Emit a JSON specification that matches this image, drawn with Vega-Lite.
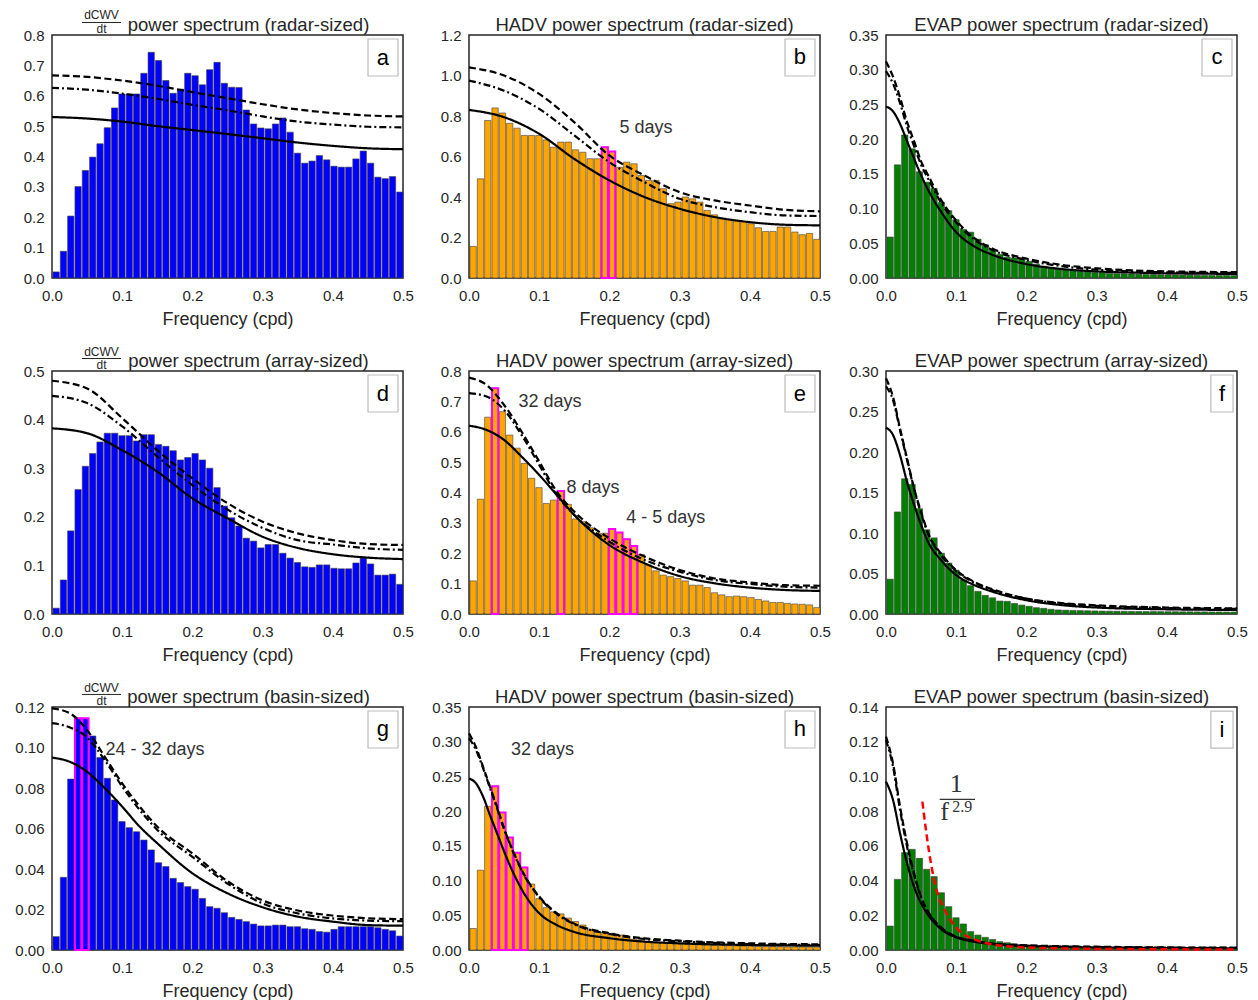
{
"$schema":"https://vega.github.io/schema/vega-lite/v6.json",
"background":"white",
"padding":{"left":14,"top":8,"right":5,"bottom":5},
"bounds":"flush",
"columns":3,
"spacing":{"row":93,"column":66},
"datasets":{
"bars":[
{"s":"a","f":0,"v":0.02},{"s":"a","f":0.01042,"v":0.088},{"s":"a","f":0.02083,"v":0.204},{"s":"a","f":0.03125,"v":0.301},{"s":"a","f":0.04167,"v":0.354},{"s":"a","f":0.05208,"v":0.398},{"s":"a","f":0.0625,"v":0.442},{"s":"a","f":0.07292,"v":0.495},{"s":"a","f":0.08333,"v":0.56},{"s":"a","f":0.09375,"v":0.606},{"s":"a","f":0.10417,"v":0.606},{"s":"a","f":0.11458,"v":0.606},{"s":"a","f":0.125,"v":0.674},{"s":"a","f":0.13542,"v":0.743},{"s":"a","f":0.14583,"v":0.716},{"s":"a","f":0.15625,"v":0.65},{"s":"a","f":0.16667,"v":0.608},{"s":"a","f":0.17708,"v":0.622},{"s":"a","f":0.1875,"v":0.674},{"s":"a","f":0.19792,"v":0.666},{"s":"a","f":0.20833,"v":0.636},{"s":"a","f":0.21875,"v":0.686},{"s":"a","f":0.22917,"v":0.71},{"s":"a","f":0.23958,"v":0.641},{"s":"a","f":0.25,"v":0.628},{"s":"a","f":0.26042,"v":0.627},{"s":"a","f":0.27083,"v":0.553},{"s":"a","f":0.28125,"v":0.507},{"s":"a","f":0.29167,"v":0.494},{"s":"a","f":0.30208,"v":0.491},{"s":"a","f":0.3125,"v":0.507},{"s":"a","f":0.32292,"v":0.527},{"s":"a","f":0.33333,"v":0.48},{"s":"a","f":0.34375,"v":0.411},{"s":"a","f":0.35417,"v":0.378},{"s":"a","f":0.36458,"v":0.385},{"s":"a","f":0.375,"v":0.403},{"s":"a","f":0.38542,"v":0.389},{"s":"a","f":0.39583,"v":0.368},{"s":"a","f":0.40625,"v":0.365},{"s":"a","f":0.41667,"v":0.365},{"s":"a","f":0.42708,"v":0.392},{"s":"a","f":0.4375,"v":0.418},{"s":"a","f":0.44792,"v":0.378},{"s":"a","f":0.45833,"v":0.332},{"s":"a","f":0.46875,"v":0.327},{"s":"a","f":0.47917,"v":0.334},{"s":"a","f":0.48958,"v":0.283},
{"s":"b","f":0,"v":0.156},{"s":"b","f":0.01042,"v":0.49},{"s":"b","f":0.02083,"v":0.778},{"s":"b","f":0.03125,"v":0.84},{"s":"b","f":0.04167,"v":0.815},{"s":"b","f":0.05208,"v":0.764},{"s":"b","f":0.0625,"v":0.74},{"s":"b","f":0.07292,"v":0.704},{"s":"b","f":0.08333,"v":0.704},{"s":"b","f":0.09375,"v":0.704},{"s":"b","f":0.10417,"v":0.682},{"s":"b","f":0.11458,"v":0.646},{"s":"b","f":0.125,"v":0.671},{"s":"b","f":0.13542,"v":0.671},{"s":"b","f":0.14583,"v":0.633},{"s":"b","f":0.15625,"v":0.621},{"s":"b","f":0.16667,"v":0.589},{"s":"b","f":0.17708,"v":0.589},{"s":"b","f":0.1875,"v":0.646,"hl":1},{"s":"b","f":0.19792,"v":0.625,"hl":1},{"s":"b","f":0.20833,"v":0.547},{"s":"b","f":0.21875,"v":0.572},{"s":"b","f":0.22917,"v":0.564},{"s":"b","f":0.23958,"v":0.506},{"s":"b","f":0.25,"v":0.482},{"s":"b","f":0.26042,"v":0.482},{"s":"b","f":0.27083,"v":0.441},{"s":"b","f":0.28125,"v":0.367},{"s":"b","f":0.29167,"v":0.375},{"s":"b","f":0.30208,"v":0.4},{"s":"b","f":0.3125,"v":0.391},{"s":"b","f":0.32292,"v":0.375},{"s":"b","f":0.33333,"v":0.334},{"s":"b","f":0.34375,"v":0.312},{"s":"b","f":0.35417,"v":0.293},{"s":"b","f":0.36458,"v":0.289},{"s":"b","f":0.375,"v":0.283},{"s":"b","f":0.38542,"v":0.279},{"s":"b","f":0.39583,"v":0.268},{"s":"b","f":0.40625,"v":0.248},{"s":"b","f":0.41667,"v":0.23},{"s":"b","f":0.42708,"v":0.23},{"s":"b","f":0.4375,"v":0.252},{"s":"b","f":0.44792,"v":0.252},{"s":"b","f":0.45833,"v":0.227},{"s":"b","f":0.46875,"v":0.214},{"s":"b","f":0.47917,"v":0.22},{"s":"b","f":0.48958,"v":0.191},
{"s":"c","f":0,"v":0.059},{"s":"c","f":0.01042,"v":0.163},{"s":"c","f":0.02083,"v":0.206},{"s":"c","f":0.03125,"v":0.186},{"s":"c","f":0.04167,"v":0.153},{"s":"c","f":0.05208,"v":0.138},{"s":"c","f":0.0625,"v":0.129},{"s":"c","f":0.07292,"v":0.109},{"s":"c","f":0.08333,"v":0.097},{"s":"c","f":0.09375,"v":0.084},{"s":"c","f":0.10417,"v":0.07},{"s":"c","f":0.11458,"v":0.066},{"s":"c","f":0.125,"v":0.056},{"s":"c","f":0.13542,"v":0.048},{"s":"c","f":0.14583,"v":0.04},{"s":"c","f":0.15625,"v":0.034},{"s":"c","f":0.16667,"v":0.03},{"s":"c","f":0.17708,"v":0.029},{"s":"c","f":0.1875,"v":0.028},{"s":"c","f":0.19792,"v":0.024},{"s":"c","f":0.20833,"v":0.02},{"s":"c","f":0.21875,"v":0.017},{"s":"c","f":0.22917,"v":0.015},{"s":"c","f":0.23958,"v":0.013},{"s":"c","f":0.25,"v":0.0115},{"s":"c","f":0.26042,"v":0.0105},{"s":"c","f":0.27083,"v":0.0096},{"s":"c","f":0.28125,"v":0.0086},{"s":"c","f":0.29167,"v":0.008},{"s":"c","f":0.30208,"v":0.0077},{"s":"c","f":0.3125,"v":0.0067},{"s":"c","f":0.32292,"v":0.0062},{"s":"c","f":0.33333,"v":0.006},{"s":"c","f":0.34375,"v":0.0058},{"s":"c","f":0.35417,"v":0.0055},{"s":"c","f":0.36458,"v":0.0052},{"s":"c","f":0.375,"v":0.005},{"s":"c","f":0.38542,"v":0.0048},{"s":"c","f":0.39583,"v":0.0046},{"s":"c","f":0.40625,"v":0.0045},{"s":"c","f":0.41667,"v":0.0043},{"s":"c","f":0.42708,"v":0.0042},{"s":"c","f":0.4375,"v":0.004},{"s":"c","f":0.44792,"v":0.0039},{"s":"c","f":0.45833,"v":0.0038},{"s":"c","f":0.46875,"v":0.0037},{"s":"c","f":0.47917,"v":0.0036},{"s":"c","f":0.48958,"v":0.0035},
{"s":"d","f":0,"v":0.012},{"s":"d","f":0.01042,"v":0.07},{"s":"d","f":0.02083,"v":0.171},{"s":"d","f":0.03125,"v":0.256},{"s":"d","f":0.04167,"v":0.304},{"s":"d","f":0.05208,"v":0.33},{"s":"d","f":0.0625,"v":0.354},{"s":"d","f":0.07292,"v":0.372},{"s":"d","f":0.08333,"v":0.372},{"s":"d","f":0.09375,"v":0.367},{"s":"d","f":0.10417,"v":0.367},{"s":"d","f":0.11458,"v":0.356},{"s":"d","f":0.125,"v":0.369},{"s":"d","f":0.13542,"v":0.369},{"s":"d","f":0.14583,"v":0.349},{"s":"d","f":0.15625,"v":0.345},{"s":"d","f":0.16667,"v":0.336},{"s":"d","f":0.17708,"v":0.317},{"s":"d","f":0.1875,"v":0.322},{"s":"d","f":0.19792,"v":0.33},{"s":"d","f":0.20833,"v":0.317},{"s":"d","f":0.21875,"v":0.3},{"s":"d","f":0.22917,"v":0.26},{"s":"d","f":0.23958,"v":0.222},{"s":"d","f":0.25,"v":0.198},{"s":"d","f":0.26042,"v":0.181},{"s":"d","f":0.27083,"v":0.156},{"s":"d","f":0.28125,"v":0.15},{"s":"d","f":0.29167,"v":0.136},{"s":"d","f":0.30208,"v":0.143},{"s":"d","f":0.3125,"v":0.143},{"s":"d","f":0.32292,"v":0.125},{"s":"d","f":0.33333,"v":0.115},{"s":"d","f":0.34375,"v":0.106},{"s":"d","f":0.35417,"v":0.097},{"s":"d","f":0.36458,"v":0.096},{"s":"d","f":0.375,"v":0.101},{"s":"d","f":0.38542,"v":0.101},{"s":"d","f":0.39583,"v":0.094},{"s":"d","f":0.40625,"v":0.093},{"s":"d","f":0.41667,"v":0.093},{"s":"d","f":0.42708,"v":0.105},{"s":"d","f":0.4375,"v":0.115},{"s":"d","f":0.44792,"v":0.103},{"s":"d","f":0.45833,"v":0.08},{"s":"d","f":0.46875,"v":0.08},{"s":"d","f":0.47917,"v":0.082},{"s":"d","f":0.48958,"v":0.061},
{"s":"e","f":0,"v":0.109},{"s":"e","f":0.01042,"v":0.378},{"s":"e","f":0.02083,"v":0.648},{"s":"e","f":0.03125,"v":0.743,"hl":1},{"s":"e","f":0.04167,"v":0.666},{"s":"e","f":0.05208,"v":0.589},{"s":"e","f":0.0625,"v":0.546},{"s":"e","f":0.07292,"v":0.496},{"s":"e","f":0.08333,"v":0.447},{"s":"e","f":0.09375,"v":0.416},{"s":"e","f":0.10417,"v":0.364},{"s":"e","f":0.11458,"v":0.375},{"s":"e","f":0.125,"v":0.405,"hl":1},{"s":"e","f":0.13542,"v":0.361},{"s":"e","f":0.14583,"v":0.313},{"s":"e","f":0.15625,"v":0.304},{"s":"e","f":0.16667,"v":0.284},{"s":"e","f":0.17708,"v":0.266},{"s":"e","f":0.1875,"v":0.266},{"s":"e","f":0.19792,"v":0.28,"hl":1},{"s":"e","f":0.20833,"v":0.268,"hl":1},{"s":"e","f":0.21875,"v":0.246,"hl":1},{"s":"e","f":0.22917,"v":0.224,"hl":1},{"s":"e","f":0.23958,"v":0.196},{"s":"e","f":0.25,"v":0.161},{"s":"e","f":0.26042,"v":0.142},{"s":"e","f":0.27083,"v":0.128},{"s":"e","f":0.28125,"v":0.123},{"s":"e","f":0.29167,"v":0.117},{"s":"e","f":0.30208,"v":0.109},{"s":"e","f":0.3125,"v":0.095},{"s":"e","f":0.32292,"v":0.095},{"s":"e","f":0.33333,"v":0.087},{"s":"e","f":0.34375,"v":0.07},{"s":"e","f":0.35417,"v":0.063},{"s":"e","f":0.36458,"v":0.057},{"s":"e","f":0.375,"v":0.059},{"s":"e","f":0.38542,"v":0.057},{"s":"e","f":0.39583,"v":0.054},{"s":"e","f":0.40625,"v":0.048},{"s":"e","f":0.41667,"v":0.043},{"s":"e","f":0.42708,"v":0.038},{"s":"e","f":0.4375,"v":0.038},{"s":"e","f":0.44792,"v":0.035},{"s":"e","f":0.45833,"v":0.033},{"s":"e","f":0.46875,"v":0.032},{"s":"e","f":0.47917,"v":0.03},{"s":"e","f":0.48958,"v":0.021},
{"s":"f","f":0,"v":0.043},{"s":"f","f":0.01042,"v":0.126},{"s":"f","f":0.02083,"v":0.167},{"s":"f","f":0.03125,"v":0.16},{"s":"f","f":0.04167,"v":0.13},{"s":"f","f":0.05208,"v":0.104},{"s":"f","f":0.0625,"v":0.094},{"s":"f","f":0.07292,"v":0.075},{"s":"f","f":0.08333,"v":0.063},{"s":"f","f":0.09375,"v":0.054},{"s":"f","f":0.10417,"v":0.042},{"s":"f","f":0.11458,"v":0.035},{"s":"f","f":0.125,"v":0.028},{"s":"f","f":0.13542,"v":0.023},{"s":"f","f":0.14583,"v":0.02},{"s":"f","f":0.15625,"v":0.016},{"s":"f","f":0.16667,"v":0.0156},{"s":"f","f":0.17708,"v":0.013},{"s":"f","f":0.1875,"v":0.011},{"s":"f","f":0.19792,"v":0.0095},{"s":"f","f":0.20833,"v":0.0078},{"s":"f","f":0.21875,"v":0.007},{"s":"f","f":0.22917,"v":0.0058},{"s":"f","f":0.23958,"v":0.005},{"s":"f","f":0.25,"v":0.0047},{"s":"f","f":0.26042,"v":0.0044},{"s":"f","f":0.27083,"v":0.0042},{"s":"f","f":0.28125,"v":0.004},{"s":"f","f":0.29167,"v":0.0038},{"s":"f","f":0.30208,"v":0.0036},{"s":"f","f":0.3125,"v":0.0035},{"s":"f","f":0.32292,"v":0.0034},{"s":"f","f":0.33333,"v":0.0033},{"s":"f","f":0.34375,"v":0.0032},{"s":"f","f":0.35417,"v":0.0031},{"s":"f","f":0.36458,"v":0.003},{"s":"f","f":0.375,"v":0.003},{"s":"f","f":0.38542,"v":0.0029},{"s":"f","f":0.39583,"v":0.0028},{"s":"f","f":0.40625,"v":0.0028},{"s":"f","f":0.41667,"v":0.0027},{"s":"f","f":0.42708,"v":0.0027},{"s":"f","f":0.4375,"v":0.0026},{"s":"f","f":0.44792,"v":0.0026},{"s":"f","f":0.45833,"v":0.0025},{"s":"f","f":0.46875,"v":0.0025},{"s":"f","f":0.47917,"v":0.0024},{"s":"f","f":0.48958,"v":0.0024},
{"s":"g","f":0,"v":0.0066},{"s":"g","f":0.01042,"v":0.0359},{"s":"g","f":0.02083,"v":0.0844},{"s":"g","f":0.03125,"v":0.1144,"hl":1},{"s":"g","f":0.04167,"v":0.1144,"hl":1},{"s":"g","f":0.05208,"v":0.1057},{"s":"g","f":0.0625,"v":0.0951},{"s":"g","f":0.07292,"v":0.0848},{"s":"g","f":0.08333,"v":0.0741},{"s":"g","f":0.09375,"v":0.0634},{"s":"g","f":0.10417,"v":0.0604},{"s":"g","f":0.11458,"v":0.0584},{"s":"g","f":0.125,"v":0.0543},{"s":"g","f":0.13542,"v":0.0494},{"s":"g","f":0.14583,"v":0.0431},{"s":"g","f":0.15625,"v":0.0412},{"s":"g","f":0.16667,"v":0.0354},{"s":"g","f":0.17708,"v":0.0333},{"s":"g","f":0.1875,"v":0.0313},{"s":"g","f":0.19792,"v":0.03},{"s":"g","f":0.20833,"v":0.0255},{"s":"g","f":0.21875,"v":0.0214},{"s":"g","f":0.22917,"v":0.0206},{"s":"g","f":0.23958,"v":0.0184},{"s":"g","f":0.25,"v":0.0161},{"s":"g","f":0.26042,"v":0.0151},{"s":"g","f":0.27083,"v":0.014},{"s":"g","f":0.28125,"v":0.0128},{"s":"g","f":0.29167,"v":0.0119},{"s":"g","f":0.30208,"v":0.0119},{"s":"g","f":0.3125,"v":0.0123},{"s":"g","f":0.32292,"v":0.0123},{"s":"g","f":0.33333,"v":0.0115},{"s":"g","f":0.34375,"v":0.0115},{"s":"g","f":0.35417,"v":0.0105},{"s":"g","f":0.36458,"v":0.0102},{"s":"g","f":0.375,"v":0.0091},{"s":"g","f":0.38542,"v":0.0088},{"s":"g","f":0.39583,"v":0.0102},{"s":"g","f":0.40625,"v":0.0115},{"s":"g","f":0.41667,"v":0.0115},{"s":"g","f":0.42708,"v":0.0115},{"s":"g","f":0.4375,"v":0.0115},{"s":"g","f":0.44792,"v":0.0115},{"s":"g","f":0.45833,"v":0.011},{"s":"g","f":0.46875,"v":0.0102},{"s":"g","f":0.47917,"v":0.0095},{"s":"g","f":0.48958,"v":0.0069},
{"s":"h","f":0,"v":0.031},{"s":"h","f":0.01042,"v":0.115},{"s":"h","f":0.02083,"v":0.207},{"s":"h","f":0.03125,"v":0.236,"hl":1},{"s":"h","f":0.04167,"v":0.198,"hl":1},{"s":"h","f":0.05208,"v":0.162,"hl":1},{"s":"h","f":0.0625,"v":0.14,"hl":1},{"s":"h","f":0.07292,"v":0.119,"hl":1},{"s":"h","f":0.08333,"v":0.095},{"s":"h","f":0.09375,"v":0.074},{"s":"h","f":0.10417,"v":0.061},{"s":"h","f":0.11458,"v":0.055},{"s":"h","f":0.125,"v":0.052},{"s":"h","f":0.13542,"v":0.046},{"s":"h","f":0.14583,"v":0.041},{"s":"h","f":0.15625,"v":0.036},{"s":"h","f":0.16667,"v":0.029},{"s":"h","f":0.17708,"v":0.026},{"s":"h","f":0.1875,"v":0.026},{"s":"h","f":0.19792,"v":0.024},{"s":"h","f":0.20833,"v":0.0216},{"s":"h","f":0.21875,"v":0.018},{"s":"h","f":0.22917,"v":0.0154},{"s":"h","f":0.23958,"v":0.0134},{"s":"h","f":0.25,"v":0.012},{"s":"h","f":0.26042,"v":0.011},{"s":"h","f":0.27083,"v":0.0106},{"s":"h","f":0.28125,"v":0.0096},{"s":"h","f":0.29167,"v":0.009},{"s":"h","f":0.30208,"v":0.0085},{"s":"h","f":0.3125,"v":0.008},{"s":"h","f":0.32292,"v":0.0076},{"s":"h","f":0.33333,"v":0.0072},{"s":"h","f":0.34375,"v":0.0068},{"s":"h","f":0.35417,"v":0.0065},{"s":"h","f":0.36458,"v":0.0062},{"s":"h","f":0.375,"v":0.006},{"s":"h","f":0.38542,"v":0.0057},{"s":"h","f":0.39583,"v":0.0055},{"s":"h","f":0.40625,"v":0.0052},{"s":"h","f":0.41667,"v":0.005},{"s":"h","f":0.42708,"v":0.0048},{"s":"h","f":0.4375,"v":0.0046},{"s":"h","f":0.44792,"v":0.0045},{"s":"h","f":0.45833,"v":0.0044},{"s":"h","f":0.46875,"v":0.0043},{"s":"h","f":0.47917,"v":0.0042},{"s":"h","f":0.48958,"v":0.0041},
{"s":"i","f":0,"v":0.0138},{"s":"i","f":0.01042,"v":0.0407},{"s":"i","f":0.02083,"v":0.0561},{"s":"i","f":0.03125,"v":0.058},{"s":"i","f":0.04167,"v":0.0528},{"s":"i","f":0.05208,"v":0.0465},{"s":"i","f":0.0625,"v":0.0423},{"s":"i","f":0.07292,"v":0.033},{"s":"i","f":0.08333,"v":0.025},{"s":"i","f":0.09375,"v":0.0186},{"s":"i","f":0.10417,"v":0.015},{"s":"i","f":0.11458,"v":0.0106},{"s":"i","f":0.125,"v":0.0086},{"s":"i","f":0.13542,"v":0.0073},{"s":"i","f":0.14583,"v":0.0061},{"s":"i","f":0.15625,"v":0.0048},{"s":"i","f":0.16667,"v":0.0042},{"s":"i","f":0.17708,"v":0.0035},{"s":"i","f":0.1875,"v":0.0029},{"s":"i","f":0.19792,"v":0.0025},{"s":"i","f":0.20833,"v":0.0022},{"s":"i","f":0.21875,"v":0.002},{"s":"i","f":0.22917,"v":0.0019},{"s":"i","f":0.23958,"v":0.0018},{"s":"i","f":0.25,"v":0.0017},{"s":"i","f":0.26042,"v":0.0016},{"s":"i","f":0.27083,"v":0.0015},{"s":"i","f":0.28125,"v":0.0014},{"s":"i","f":0.29167,"v":0.0014},{"s":"i","f":0.30208,"v":0.0013},{"s":"i","f":0.3125,"v":0.0013},{"s":"i","f":0.32292,"v":0.0012},{"s":"i","f":0.33333,"v":0.0012},{"s":"i","f":0.34375,"v":0.0011},{"s":"i","f":0.35417,"v":0.0011},{"s":"i","f":0.36458,"v":0.0011},{"s":"i","f":0.375,"v":0.001},{"s":"i","f":0.38542,"v":0.001},{"s":"i","f":0.39583,"v":0.001},{"s":"i","f":0.40625,"v":0.001},{"s":"i","f":0.41667,"v":0.0009},{"s":"i","f":0.42708,"v":0.0009},{"s":"i","f":0.4375,"v":0.0009},{"s":"i","f":0.44792,"v":0.0009},{"s":"i","f":0.45833,"v":0.0009},{"s":"i","f":0.46875,"v":0.0008},{"s":"i","f":0.47917,"v":0.0008},{"s":"i","f":0.48958,"v":0.0008}
],
"curves":[
{"s":"a","k":"m","f":0,"v":0.53},{"s":"a","k":"m","f":0.05,"v":0.525},{"s":"a","k":"m","f":0.1,"v":0.515},{"s":"a","k":"m","f":0.15,"v":0.5},{"s":"a","k":"m","f":0.2,"v":0.487},{"s":"a","k":"m","f":0.25,"v":0.474},{"s":"a","k":"m","f":0.3,"v":0.46},{"s":"a","k":"m","f":0.35,"v":0.446},{"s":"a","k":"m","f":0.4,"v":0.435},{"s":"a","k":"m","f":0.45,"v":0.427},{"s":"a","k":"m","f":0.5,"v":0.424},
{"s":"a","k":"d","f":0,"v":0.667},{"s":"a","k":"d","f":0.05,"v":0.662},{"s":"a","k":"d","f":0.1,"v":0.65},{"s":"a","k":"d","f":0.15,"v":0.633},{"s":"a","k":"d","f":0.2,"v":0.612},{"s":"a","k":"d","f":0.25,"v":0.592},{"s":"a","k":"d","f":0.3,"v":0.572},{"s":"a","k":"d","f":0.35,"v":0.555},{"s":"a","k":"d","f":0.4,"v":0.543},{"s":"a","k":"d","f":0.45,"v":0.535},{"s":"a","k":"d","f":0.5,"v":0.532},
{"s":"a","k":"dd","f":0,"v":0.626},{"s":"a","k":"dd","f":0.05,"v":0.62},{"s":"a","k":"dd","f":0.1,"v":0.607},{"s":"a","k":"dd","f":0.15,"v":0.59},{"s":"a","k":"dd","f":0.2,"v":0.57},{"s":"a","k":"dd","f":0.25,"v":0.552},{"s":"a","k":"dd","f":0.3,"v":0.532},{"s":"a","k":"dd","f":0.35,"v":0.515},{"s":"a","k":"dd","f":0.4,"v":0.505},{"s":"a","k":"dd","f":0.45,"v":0.498},{"s":"a","k":"dd","f":0.5,"v":0.496},
{"s":"b","k":"m","f":0,"v":0.83},{"s":"b","k":"m","f":0.05,"v":0.794},{"s":"b","k":"m","f":0.1,"v":0.712},{"s":"b","k":"m","f":0.15,"v":0.588},{"s":"b","k":"m","f":0.2,"v":0.482},{"s":"b","k":"m","f":0.25,"v":0.4},{"s":"b","k":"m","f":0.3,"v":0.342},{"s":"b","k":"m","f":0.35,"v":0.301},{"s":"b","k":"m","f":0.4,"v":0.276},{"s":"b","k":"m","f":0.45,"v":0.263},{"s":"b","k":"m","f":0.5,"v":0.26},
{"s":"b","k":"d","f":0,"v":1.04},{"s":"b","k":"d","f":0.05,"v":1.0},{"s":"b","k":"d","f":0.1,"v":0.909},{"s":"b","k":"d","f":0.15,"v":0.769},{"s":"b","k":"d","f":0.2,"v":0.605},{"s":"b","k":"d","f":0.25,"v":0.506},{"s":"b","k":"d","f":0.3,"v":0.424},{"s":"b","k":"d","f":0.35,"v":0.383},{"s":"b","k":"d","f":0.4,"v":0.358},{"s":"b","k":"d","f":0.45,"v":0.337},{"s":"b","k":"d","f":0.5,"v":0.329},
{"s":"b","k":"dd","f":0,"v":0.975},{"s":"b","k":"dd","f":0.05,"v":0.925},{"s":"b","k":"dd","f":0.1,"v":0.835},{"s":"b","k":"dd","f":0.15,"v":0.704},{"s":"b","k":"dd","f":0.2,"v":0.572},{"s":"b","k":"dd","f":0.25,"v":0.473},{"s":"b","k":"dd","f":0.3,"v":0.391},{"s":"b","k":"dd","f":0.35,"v":0.35},{"s":"b","k":"dd","f":0.4,"v":0.325},{"s":"b","k":"dd","f":0.45,"v":0.309},{"s":"b","k":"dd","f":0.5,"v":0.306},
{"s":"c","k":"m","f":0,"v":0.247},{"s":"c","k":"m","f":0.01,"v":0.24},{"s":"c","k":"m","f":0.02,"v":0.222},{"s":"c","k":"m","f":0.03,"v":0.197},{"s":"c","k":"m","f":0.04,"v":0.172},{"s":"c","k":"m","f":0.05,"v":0.148},{"s":"c","k":"m","f":0.06,"v":0.127},{"s":"c","k":"m","f":0.08,"v":0.093},{"s":"c","k":"m","f":0.1,"v":0.066},{"s":"c","k":"m","f":0.125,"v":0.046},{"s":"c","k":"m","f":0.15,"v":0.034},{"s":"c","k":"m","f":0.2,"v":0.02},{"s":"c","k":"m","f":0.25,"v":0.013},{"s":"c","k":"m","f":0.3,"v":0.0095},{"s":"c","k":"m","f":0.35,"v":0.0078},{"s":"c","k":"m","f":0.4,"v":0.0068},{"s":"c","k":"m","f":0.45,"v":0.0062},{"s":"c","k":"m","f":0.5,"v":0.006},
{"s":"c","k":"d","f":0,"v":0.312},{"s":"c","k":"d","f":0.01,"v":0.29},{"s":"c","k":"d","f":0.02,"v":0.26},{"s":"c","k":"d","f":0.03,"v":0.225},{"s":"c","k":"d","f":0.04,"v":0.197},{"s":"c","k":"d","f":0.05,"v":0.168},{"s":"c","k":"d","f":0.06,"v":0.148},{"s":"c","k":"d","f":0.08,"v":0.11},{"s":"c","k":"d","f":0.1,"v":0.083},{"s":"c","k":"d","f":0.125,"v":0.058},{"s":"c","k":"d","f":0.15,"v":0.043},{"s":"c","k":"d","f":0.2,"v":0.028},{"s":"c","k":"d","f":0.25,"v":0.019},{"s":"c","k":"d","f":0.3,"v":0.014},{"s":"c","k":"d","f":0.35,"v":0.011},{"s":"c","k":"d","f":0.4,"v":0.0095},{"s":"c","k":"d","f":0.45,"v":0.0088},{"s":"c","k":"d","f":0.5,"v":0.0085},
{"s":"c","k":"dd","f":0,"v":0.298},{"s":"c","k":"dd","f":0.01,"v":0.28},{"s":"c","k":"dd","f":0.02,"v":0.252},{"s":"c","k":"dd","f":0.03,"v":0.218},{"s":"c","k":"dd","f":0.04,"v":0.19},{"s":"c","k":"dd","f":0.05,"v":0.163},{"s":"c","k":"dd","f":0.06,"v":0.143},{"s":"c","k":"dd","f":0.08,"v":0.106},{"s":"c","k":"dd","f":0.1,"v":0.08},{"s":"c","k":"dd","f":0.125,"v":0.056},{"s":"c","k":"dd","f":0.15,"v":0.041},{"s":"c","k":"dd","f":0.2,"v":0.026},{"s":"c","k":"dd","f":0.25,"v":0.017},{"s":"c","k":"dd","f":0.3,"v":0.012},{"s":"c","k":"dd","f":0.35,"v":0.0095},{"s":"c","k":"dd","f":0.4,"v":0.0082},{"s":"c","k":"dd","f":0.45,"v":0.0075},{"s":"c","k":"dd","f":0.5,"v":0.0072},
{"s":"d","k":"m","f":0,"v":0.382},{"s":"d","k":"m","f":0.05,"v":0.372},{"s":"d","k":"m","f":0.1,"v":0.337},{"s":"d","k":"m","f":0.15,"v":0.293},{"s":"d","k":"m","f":0.2,"v":0.238},{"s":"d","k":"m","f":0.25,"v":0.197},{"s":"d","k":"m","f":0.3,"v":0.159},{"s":"d","k":"m","f":0.35,"v":0.136},{"s":"d","k":"m","f":0.4,"v":0.123},{"s":"d","k":"m","f":0.45,"v":0.116},{"s":"d","k":"m","f":0.5,"v":0.113},
{"s":"d","k":"d","f":0,"v":0.48},{"s":"d","k":"d","f":0.05,"v":0.464},{"s":"d","k":"d","f":0.1,"v":0.403},{"s":"d","k":"d","f":0.15,"v":0.337},{"s":"d","k":"d","f":0.2,"v":0.279},{"s":"d","k":"d","f":0.25,"v":0.228},{"s":"d","k":"d","f":0.3,"v":0.19},{"s":"d","k":"d","f":0.35,"v":0.166},{"s":"d","k":"d","f":0.4,"v":0.152},{"s":"d","k":"d","f":0.45,"v":0.144},{"s":"d","k":"d","f":0.5,"v":0.142},
{"s":"d","k":"dd","f":0,"v":0.449},{"s":"d","k":"dd","f":0.05,"v":0.434},{"s":"d","k":"dd","f":0.1,"v":0.386},{"s":"d","k":"dd","f":0.15,"v":0.324},{"s":"d","k":"dd","f":0.2,"v":0.265},{"s":"d","k":"dd","f":0.25,"v":0.215},{"s":"d","k":"dd","f":0.3,"v":0.177},{"s":"d","k":"dd","f":0.35,"v":0.152},{"s":"d","k":"dd","f":0.4,"v":0.143},{"s":"d","k":"dd","f":0.45,"v":0.135},{"s":"d","k":"dd","f":0.5,"v":0.132},
{"s":"e","k":"m","f":0,"v":0.62},{"s":"e","k":"m","f":0.025,"v":0.606},{"s":"e","k":"m","f":0.05,"v":0.573},{"s":"e","k":"m","f":0.075,"v":0.518},{"s":"e","k":"m","f":0.1,"v":0.458},{"s":"e","k":"m","f":0.125,"v":0.392},{"s":"e","k":"m","f":0.15,"v":0.326},{"s":"e","k":"m","f":0.2,"v":0.227},{"s":"e","k":"m","f":0.25,"v":0.167},{"s":"e","k":"m","f":0.3,"v":0.125},{"s":"e","k":"m","f":0.35,"v":0.101},{"s":"e","k":"m","f":0.4,"v":0.087},{"s":"e","k":"m","f":0.45,"v":0.079},{"s":"e","k":"m","f":0.5,"v":0.076},
{"s":"e","k":"d","f":0,"v":0.778},{"s":"e","k":"d","f":0.025,"v":0.754},{"s":"e","k":"d","f":0.05,"v":0.688},{"s":"e","k":"d","f":0.075,"v":0.6},{"s":"e","k":"d","f":0.1,"v":0.502},{"s":"e","k":"d","f":0.125,"v":0.403},{"s":"e","k":"d","f":0.15,"v":0.337},{"s":"e","k":"d","f":0.2,"v":0.249},{"s":"e","k":"d","f":0.25,"v":0.189},{"s":"e","k":"d","f":0.3,"v":0.145},{"s":"e","k":"d","f":0.35,"v":0.117},{"s":"e","k":"d","f":0.4,"v":0.104},{"s":"e","k":"d","f":0.45,"v":0.095},{"s":"e","k":"d","f":0.5,"v":0.093},
{"s":"e","k":"dd","f":0,"v":0.727},{"s":"e","k":"dd","f":0.025,"v":0.716},{"s":"e","k":"dd","f":0.05,"v":0.672},{"s":"e","k":"dd","f":0.075,"v":0.589},{"s":"e","k":"dd","f":0.1,"v":0.491},{"s":"e","k":"dd","f":0.125,"v":0.392},{"s":"e","k":"dd","f":0.15,"v":0.326},{"s":"e","k":"dd","f":0.2,"v":0.238},{"s":"e","k":"dd","f":0.25,"v":0.178},{"s":"e","k":"dd","f":0.3,"v":0.139},{"s":"e","k":"dd","f":0.35,"v":0.112},{"s":"e","k":"dd","f":0.4,"v":0.099},{"s":"e","k":"dd","f":0.45,"v":0.09},{"s":"e","k":"dd","f":0.5,"v":0.087},
{"s":"f","k":"m","f":0,"v":0.23},{"s":"f","k":"m","f":0.01,"v":0.221},{"s":"f","k":"m","f":0.02,"v":0.196},{"s":"f","k":"m","f":0.03,"v":0.163},{"s":"f","k":"m","f":0.04,"v":0.135},{"s":"f","k":"m","f":0.05,"v":0.11},{"s":"f","k":"m","f":0.06,"v":0.089},{"s":"f","k":"m","f":0.08,"v":0.065},{"s":"f","k":"m","f":0.1,"v":0.048},{"s":"f","k":"m","f":0.125,"v":0.036},{"s":"f","k":"m","f":0.15,"v":0.028},{"s":"f","k":"m","f":0.2,"v":0.017},{"s":"f","k":"m","f":0.25,"v":0.011},{"s":"f","k":"m","f":0.3,"v":0.008},{"s":"f","k":"m","f":0.4,"v":0.0058},{"s":"f","k":"m","f":0.5,"v":0.005},
{"s":"f","k":"d","f":0,"v":0.291},{"s":"f","k":"d","f":0.01,"v":0.268},{"s":"f","k":"d","f":0.02,"v":0.229},{"s":"f","k":"d","f":0.03,"v":0.192},{"s":"f","k":"d","f":0.04,"v":0.155},{"s":"f","k":"d","f":0.05,"v":0.126},{"s":"f","k":"d","f":0.06,"v":0.1},{"s":"f","k":"d","f":0.08,"v":0.073},{"s":"f","k":"d","f":0.1,"v":0.054},{"s":"f","k":"d","f":0.125,"v":0.04},{"s":"f","k":"d","f":0.15,"v":0.031},{"s":"f","k":"d","f":0.2,"v":0.019},{"s":"f","k":"d","f":0.25,"v":0.0136},{"s":"f","k":"d","f":0.3,"v":0.0107},{"s":"f","k":"d","f":0.4,"v":0.008},{"s":"f","k":"d","f":0.5,"v":0.007},
{"s":"f","k":"dd","f":0,"v":0.281},{"s":"f","k":"dd","f":0.01,"v":0.264},{"s":"f","k":"dd","f":0.02,"v":0.227},{"s":"f","k":"dd","f":0.03,"v":0.19},{"s":"f","k":"dd","f":0.04,"v":0.154},{"s":"f","k":"dd","f":0.05,"v":0.124},{"s":"f","k":"dd","f":0.06,"v":0.099},{"s":"f","k":"dd","f":0.08,"v":0.071},{"s":"f","k":"dd","f":0.1,"v":0.053},{"s":"f","k":"dd","f":0.125,"v":0.039},{"s":"f","k":"dd","f":0.15,"v":0.03},{"s":"f","k":"dd","f":0.2,"v":0.019},{"s":"f","k":"dd","f":0.25,"v":0.0128},{"s":"f","k":"dd","f":0.3,"v":0.01},{"s":"f","k":"dd","f":0.4,"v":0.0074},{"s":"f","k":"dd","f":0.5,"v":0.0062},
{"s":"g","k":"m","f":0,"v":0.095},{"s":"g","k":"m","f":0.025,"v":0.093},{"s":"g","k":"m","f":0.05,"v":0.088},{"s":"g","k":"m","f":0.075,"v":0.08},{"s":"g","k":"m","f":0.1,"v":0.0708},{"s":"g","k":"m","f":0.125,"v":0.0609},{"s":"g","k":"m","f":0.15,"v":0.0527},{"s":"g","k":"m","f":0.2,"v":0.0379},{"s":"g","k":"m","f":0.25,"v":0.028},{"s":"g","k":"m","f":0.3,"v":0.0211},{"s":"g","k":"m","f":0.35,"v":0.0165},{"s":"g","k":"m","f":0.4,"v":0.014},{"s":"g","k":"m","f":0.45,"v":0.0123},{"s":"g","k":"m","f":0.5,"v":0.012},
{"s":"g","k":"d","f":0,"v":0.1193},{"s":"g","k":"d","f":0.025,"v":0.117},{"s":"g","k":"d","f":0.05,"v":0.1086},{"s":"g","k":"d","f":0.075,"v":0.0955},{"s":"g","k":"d","f":0.1,"v":0.0823},{"s":"g","k":"d","f":0.125,"v":0.0708},{"s":"g","k":"d","f":0.15,"v":0.0609},{"s":"g","k":"d","f":0.2,"v":0.0477},{"s":"g","k":"d","f":0.25,"v":0.034},{"s":"g","k":"d","f":0.3,"v":0.0245},{"s":"g","k":"d","f":0.35,"v":0.0195},{"s":"g","k":"d","f":0.4,"v":0.017},{"s":"g","k":"d","f":0.45,"v":0.0157},{"s":"g","k":"d","f":0.5,"v":0.0152},
{"s":"g","k":"dd","f":0,"v":0.112},{"s":"g","k":"dd","f":0.025,"v":0.11},{"s":"g","k":"dd","f":0.05,"v":0.105},{"s":"g","k":"dd","f":0.075,"v":0.0938},{"s":"g","k":"dd","f":0.1,"v":0.0807},{"s":"g","k":"dd","f":0.125,"v":0.0691},{"s":"g","k":"dd","f":0.15,"v":0.0593},{"s":"g","k":"dd","f":0.2,"v":0.046},{"s":"g","k":"dd","f":0.25,"v":0.0328},{"s":"g","k":"dd","f":0.3,"v":0.023},{"s":"g","k":"dd","f":0.35,"v":0.0181},{"s":"g","k":"dd","f":0.4,"v":0.0156},{"s":"g","k":"dd","f":0.45,"v":0.0145},{"s":"g","k":"dd","f":0.5,"v":0.0142},
{"s":"h","k":"m","f":0,"v":0.247},{"s":"h","k":"m","f":0.01,"v":0.24},{"s":"h","k":"m","f":0.02,"v":0.221},{"s":"h","k":"m","f":0.03,"v":0.194},{"s":"h","k":"m","f":0.04,"v":0.168},{"s":"h","k":"m","f":0.05,"v":0.142},{"s":"h","k":"m","f":0.06,"v":0.118},{"s":"h","k":"m","f":0.08,"v":0.079},{"s":"h","k":"m","f":0.1,"v":0.053},{"s":"h","k":"m","f":0.125,"v":0.036},{"s":"h","k":"m","f":0.15,"v":0.026},{"s":"h","k":"m","f":0.2,"v":0.017},{"s":"h","k":"m","f":0.25,"v":0.012},{"s":"h","k":"m","f":0.3,"v":0.0096},{"s":"h","k":"m","f":0.4,"v":0.0072},{"s":"h","k":"m","f":0.5,"v":0.0062},
{"s":"h","k":"d","f":0,"v":0.312},{"s":"h","k":"d","f":0.01,"v":0.292},{"s":"h","k":"d","f":0.02,"v":0.264},{"s":"h","k":"d","f":0.03,"v":0.235},{"s":"h","k":"d","f":0.04,"v":0.206},{"s":"h","k":"d","f":0.05,"v":0.175},{"s":"h","k":"d","f":0.06,"v":0.149},{"s":"h","k":"d","f":0.08,"v":0.106},{"s":"h","k":"d","f":0.1,"v":0.077},{"s":"h","k":"d","f":0.125,"v":0.053},{"s":"h","k":"d","f":0.15,"v":0.038},{"s":"h","k":"d","f":0.2,"v":0.024},{"s":"h","k":"d","f":0.25,"v":0.0168},{"s":"h","k":"d","f":0.3,"v":0.0134},{"s":"h","k":"d","f":0.4,"v":0.0096},{"s":"h","k":"d","f":0.5,"v":0.0082},
{"s":"h","k":"dd","f":0,"v":0.305},{"s":"h","k":"dd","f":0.01,"v":0.288},{"s":"h","k":"dd","f":0.02,"v":0.262},{"s":"h","k":"dd","f":0.03,"v":0.233},{"s":"h","k":"dd","f":0.04,"v":0.204},{"s":"h","k":"dd","f":0.05,"v":0.174},{"s":"h","k":"dd","f":0.06,"v":0.148},{"s":"h","k":"dd","f":0.08,"v":0.105},{"s":"h","k":"dd","f":0.1,"v":0.076},{"s":"h","k":"dd","f":0.125,"v":0.052},{"s":"h","k":"dd","f":0.15,"v":0.037},{"s":"h","k":"dd","f":0.2,"v":0.023},{"s":"h","k":"dd","f":0.25,"v":0.0158},{"s":"h","k":"dd","f":0.3,"v":0.0125},{"s":"h","k":"dd","f":0.4,"v":0.0086},{"s":"h","k":"dd","f":0.5,"v":0.0072},
{"s":"i","k":"m","f":0,"v":0.097},{"s":"i","k":"m","f":0.01,"v":0.0864},{"s":"i","k":"m","f":0.02,"v":0.0672},{"s":"i","k":"m","f":0.03,"v":0.05},{"s":"i","k":"m","f":0.04,"v":0.0365},{"s":"i","k":"m","f":0.05,"v":0.0269},{"s":"i","k":"m","f":0.06,"v":0.0202},{"s":"i","k":"m","f":0.08,"v":0.0115},{"s":"i","k":"m","f":0.1,"v":0.0073},{"s":"i","k":"m","f":0.125,"v":0.0048},{"s":"i","k":"m","f":0.15,"v":0.0035},{"s":"i","k":"m","f":0.2,"v":0.0023},{"s":"i","k":"m","f":0.3,"v":0.0015},{"s":"i","k":"m","f":0.5,"v":0.001},
{"s":"i","k":"d","f":0,"v":0.1229},{"s":"i","k":"d","f":0.01,"v":0.1075},{"s":"i","k":"d","f":0.02,"v":0.0826},{"s":"i","k":"d","f":0.03,"v":0.0615},{"s":"i","k":"d","f":0.04,"v":0.0442},{"s":"i","k":"d","f":0.05,"v":0.0307},{"s":"i","k":"d","f":0.06,"v":0.0221},{"s":"i","k":"d","f":0.08,"v":0.0125},{"s":"i","k":"d","f":0.1,"v":0.0077},{"s":"i","k":"d","f":0.125,"v":0.0054},{"s":"i","k":"d","f":0.15,"v":0.0038},{"s":"i","k":"d","f":0.2,"v":0.0027},{"s":"i","k":"d","f":0.3,"v":0.0019},{"s":"i","k":"d","f":0.5,"v":0.0013},
{"s":"i","k":"dd","f":0,"v":0.121},{"s":"i","k":"dd","f":0.01,"v":0.1056},{"s":"i","k":"dd","f":0.02,"v":0.0807},{"s":"i","k":"dd","f":0.03,"v":0.0595},{"s":"i","k":"dd","f":0.04,"v":0.0432},{"s":"i","k":"dd","f":0.05,"v":0.0303},{"s":"i","k":"dd","f":0.06,"v":0.0217},{"s":"i","k":"dd","f":0.08,"v":0.0121},{"s":"i","k":"dd","f":0.1,"v":0.0075},{"s":"i","k":"dd","f":0.125,"v":0.0052},{"s":"i","k":"dd","f":0.15,"v":0.0036},{"s":"i","k":"dd","f":0.2,"v":0.0025},{"s":"i","k":"dd","f":0.3,"v":0.0017},{"s":"i","k":"dd","f":0.5,"v":0.0012}
],
"powerlaw":[
{"f":0.0518,"v":0.0855},{"f":0.0613,"v":0.0567},{"f":0.0708,"v":0.0365},{"f":0.0826,"v":0.024},{"f":0.0992,"v":0.0134},{"f":0.128,"v":0.0058},{"f":0.18,"v":0.0019},{"f":0.25,"v":0.0009},{"f":0.35,"v":0.0005},{"f":0.5,"v":0.0003}
],
"notes":[
{"s":"a","k":"lab","t":"a","f":0.4715,"v":0.7259},
{"s":"a","k":"fr","t":"dCWV","f":0.0705,"v":0.8642},
{"s":"a","k":"fr","t":"dt","f":0.0705,"v":0.8198},
{"s":"a","k":"rule","f":0.0427,"f2":0.0983,"v":0.8411},
{"s":"b","k":"lab","t":"b","f":0.4715,"v":1.0889},
{"s":"b","k":"ann","t":"5 days","f":0.2521,"v":0.7393},
{"s":"c","k":"lab","t":"c","f":0.4715,"v":0.3176},
{"s":"d","k":"lab","t":"d","f":0.4715,"v":0.4537},
{"s":"d","k":"fr","t":"dCWV","f":0.0705,"v":0.5401},
{"s":"d","k":"fr","t":"dt","f":0.0705,"v":0.5123},
{"s":"d","k":"rule","f":0.0427,"f2":0.0983,"v":0.5257},
{"s":"e","k":"lab","t":"e","f":0.4715,"v":0.7259},
{"s":"e","k":"ann","t":"32 days","f":0.1154,"v":0.699},
{"s":"e","k":"ann","t":"8 days","f":0.1766,"v":0.4138},
{"s":"e","k":"ann","t":"4 - 5 days","f":0.2802,"v":0.3151},
{"s":"f","k":"lab","t":"f","f":0.4786,"v":0.2722},
{"s":"g","k":"lab","t":"g","f":0.4715,"v":0.1089},
{"s":"g","k":"fr","t":"dCWV","f":0.0705,"v":0.1296},
{"s":"g","k":"fr","t":"dt","f":0.0705,"v":0.123},
{"s":"g","k":"rule","f":0.0427,"f2":0.0983,"v":0.1262},
{"s":"g","k":"ann","t":"24 - 32 days","f":0.1467,"v":0.0988},
{"s":"h","k":"lab","t":"h","f":0.4715,"v":0.3176},
{"s":"h","k":"ann","t":"32 days","f":0.1047,"v":0.288},
{"s":"i","k":"lab","t":"i","f":0.4786,"v":0.127},
{"s":"i","k":"big","t":"1","f":0.1001,"v":0.0956},
{"s":"i","k":"big","t":"f","f":0.0836,"v":0.0795},
{"s":"i","k":"sup","t":"2.9","f":0.1085,"v":0.0822},
{"s":"i","k":"rule","f":0.0765,"f2":0.1268,"v":0.0868}
]
},
"concat":[
{"width":351,"height":243,"title":{"text":"power spectrum (radar-sized)","dx":21,"dy":32},
"layer":[
{"data":{"name":"bars"},"transform":[{"filter":"datum.s=='a'"}],"mark":{"type":"bar","fill":"#0000ff","stroke":"#404040","strokeWidth":0.6},
"encoding":{"x":{"field":"f","type":"quantitative","bin":{"binned":true,"step":0.0104166667},"scale":{"domain":[0,0.5],"nice":false},"axis":{"values":[0,0.1,0.2,0.3,0.4,0.5],"format":".1f","title":"Frequency (cpd)","tickCount":20}},"y":{"field":"v","type":"quantitative","scale":{"domain":[0,0.8],"nice":false},"axis":{"values":[0,0.1,0.2,0.3,0.4,0.5,0.6,0.7,0.8],"format":".1f","title":null,"tickCount":20}}}},
{"data":{"name":"curves"},"transform":[{"filter":"datum.s=='a'"}],"mark":{"type":"line","color":"#000000","strokeWidth":2.2,"interpolate":"monotone"},
"encoding":{"x":{"field":"f","type":"quantitative"},"y":{"field":"v","type":"quantitative"},"strokeDash":{"field":"k","type":"nominal","scale":{"domain":["m","d","dd"],"range":[[1,0],[7,3.5],[7,3,2,3]]},"legend":null}}},
{"data":{"name":"notes"},"transform":[{"filter":"datum.s=='a' && datum.k=='lab'"}],"mark":{"type":"point","shape":"M-0.81,-1L0.81,-1L0.81,1L-0.81,1Z","size":1369,"filled":true,"fill":"white","stroke":"#bbbbbb","strokeWidth":1.2,"opacity":1},"encoding":{"x":{"field":"f","type":"quantitative"},"y":{"field":"v","type":"quantitative"}}},
{"data":{"name":"notes"},"transform":[{"filter":"datum.s=='a' && datum.k=='lab'"}],"mark":{"type":"text","fontSize":22,"color":"#000000","baseline":"middle","align":"center"},"encoding":{"x":{"field":"f","type":"quantitative"},"y":{"field":"v","type":"quantitative"},"text":{"field":"t"}}},
{"data":{"name":"notes"},"transform":[{"filter":"datum.s=='a' && datum.k=='fr'"}],"mark":{"type":"text","fontSize":12,"color":"#262626","baseline":"middle","align":"center"},"encoding":{"x":{"field":"f","type":"quantitative"},"y":{"field":"v","type":"quantitative"},"text":{"field":"t"}}},
{"data":{"name":"notes"},"transform":[{"filter":"datum.s=='a' && datum.k=='rule'"}],"mark":{"type":"rule","color":"#262626","strokeWidth":1},"encoding":{"x":{"field":"f","type":"quantitative"},"x2":{"field":"f2"},"y":{"field":"v","type":"quantitative"}}}
]},
{"width":351,"height":243,"title":{"text":"HADV power spectrum (radar-sized)","dy":13},
"layer":[
{"data":{"name":"bars"},"transform":[{"filter":"datum.s=='b'"}],"mark":{"type":"bar","fill":"#ffa500","stroke":"#404040","strokeWidth":0.6},
"encoding":{"x":{"field":"f","type":"quantitative","bin":{"binned":true,"step":0.0104166667},"scale":{"domain":[0,0.5],"nice":false},"axis":{"values":[0,0.1,0.2,0.3,0.4,0.5],"format":".1f","title":"Frequency (cpd)","tickCount":20}},"y":{"field":"v","type":"quantitative","scale":{"domain":[0,1.2],"nice":false},"axis":{"values":[0,0.2,0.4,0.6,0.8,1.0,1.2],"format":".1f","title":null,"tickCount":20}}}},
{"data":{"name":"bars"},"transform":[{"filter":"datum.s=='b' && datum.hl==1"}],"mark":{"type":"bar","fill":"#ffa500","stroke":"#ff00ff","strokeWidth":2},
"encoding":{"x":{"field":"f","type":"quantitative","bin":{"binned":true,"step":0.0104166667}},"y":{"field":"v","type":"quantitative"}}},
{"data":{"name":"curves"},"transform":[{"filter":"datum.s=='b'"}],"mark":{"type":"line","color":"#000000","strokeWidth":2.2,"interpolate":"monotone"},
"encoding":{"x":{"field":"f","type":"quantitative"},"y":{"field":"v","type":"quantitative"},"strokeDash":{"field":"k","type":"nominal","scale":{"domain":["m","d","dd"],"range":[[1,0],[7,3.5],[7,3,2,3]]},"legend":null}}},
{"data":{"name":"notes"},"transform":[{"filter":"datum.s=='b' && datum.k=='lab'"}],"mark":{"type":"point","shape":"M-0.81,-1L0.81,-1L0.81,1L-0.81,1Z","size":1369,"filled":true,"fill":"white","stroke":"#bbbbbb","strokeWidth":1.2,"opacity":1},"encoding":{"x":{"field":"f","type":"quantitative"},"y":{"field":"v","type":"quantitative"}}},
{"data":{"name":"notes"},"transform":[{"filter":"datum.s=='b' && datum.k=='lab'"}],"mark":{"type":"text","fontSize":22,"color":"#000000","baseline":"middle","align":"center"},"encoding":{"x":{"field":"f","type":"quantitative"},"y":{"field":"v","type":"quantitative"},"text":{"field":"t"}}},
{"data":{"name":"notes"},"transform":[{"filter":"datum.s=='b' && datum.k=='ann'"}],"mark":{"type":"text","fontSize":18,"color":"#333333","baseline":"middle","align":"center"},"encoding":{"x":{"field":"f","type":"quantitative"},"y":{"field":"v","type":"quantitative"},"text":{"field":"t"}}}
]},
{"width":351,"height":243,"title":{"text":"EVAP power spectrum (radar-sized)","dy":13},
"layer":[
{"data":{"name":"bars"},"transform":[{"filter":"datum.s=='c'"}],"mark":{"type":"bar","fill":"#008000","stroke":"#404040","strokeWidth":0.6},
"encoding":{"x":{"field":"f","type":"quantitative","bin":{"binned":true,"step":0.0104166667},"scale":{"domain":[0,0.5],"nice":false},"axis":{"values":[0,0.1,0.2,0.3,0.4,0.5],"format":".1f","title":"Frequency (cpd)","tickCount":20}},"y":{"field":"v","type":"quantitative","scale":{"domain":[0,0.35],"nice":false},"axis":{"values":[0,0.05,0.1,0.15,0.2,0.25,0.3,0.35],"format":".2f","title":null,"tickCount":20}}}},
{"data":{"name":"curves"},"transform":[{"filter":"datum.s=='c'"}],"mark":{"type":"line","color":"#000000","strokeWidth":2.2,"interpolate":"monotone"},
"encoding":{"x":{"field":"f","type":"quantitative"},"y":{"field":"v","type":"quantitative"},"strokeDash":{"field":"k","type":"nominal","scale":{"domain":["m","d","dd"],"range":[[1,0],[7,3.5],[7,3,2,3]]},"legend":null}}},
{"data":{"name":"notes"},"transform":[{"filter":"datum.s=='c' && datum.k=='lab'"}],"mark":{"type":"point","shape":"M-0.81,-1L0.81,-1L0.81,1L-0.81,1Z","size":1369,"filled":true,"fill":"white","stroke":"#bbbbbb","strokeWidth":1.2,"opacity":1},"encoding":{"x":{"field":"f","type":"quantitative"},"y":{"field":"v","type":"quantitative"}}},
{"data":{"name":"notes"},"transform":[{"filter":"datum.s=='c' && datum.k=='lab'"}],"mark":{"type":"text","fontSize":22,"color":"#000000","baseline":"middle","align":"center"},"encoding":{"x":{"field":"f","type":"quantitative"},"y":{"field":"v","type":"quantitative"},"text":{"field":"t"}}}
]},
{"width":351,"height":243,"title":{"text":"power spectrum (array-sized)","dx":21,"dy":32},
"layer":[
{"data":{"name":"bars"},"transform":[{"filter":"datum.s=='d'"}],"mark":{"type":"bar","fill":"#0000ff","stroke":"#404040","strokeWidth":0.6},
"encoding":{"x":{"field":"f","type":"quantitative","bin":{"binned":true,"step":0.0104166667},"scale":{"domain":[0,0.5],"nice":false},"axis":{"values":[0,0.1,0.2,0.3,0.4,0.5],"format":".1f","title":"Frequency (cpd)","tickCount":20}},"y":{"field":"v","type":"quantitative","scale":{"domain":[0,0.5],"nice":false},"axis":{"values":[0,0.1,0.2,0.3,0.4,0.5],"format":".1f","title":null,"tickCount":20}}}},
{"data":{"name":"curves"},"transform":[{"filter":"datum.s=='d'"}],"mark":{"type":"line","color":"#000000","strokeWidth":2.2,"interpolate":"monotone"},
"encoding":{"x":{"field":"f","type":"quantitative"},"y":{"field":"v","type":"quantitative"},"strokeDash":{"field":"k","type":"nominal","scale":{"domain":["m","d","dd"],"range":[[1,0],[7,3.5],[7,3,2,3]]},"legend":null}}},
{"data":{"name":"notes"},"transform":[{"filter":"datum.s=='d' && datum.k=='lab'"}],"mark":{"type":"point","shape":"M-0.81,-1L0.81,-1L0.81,1L-0.81,1Z","size":1369,"filled":true,"fill":"white","stroke":"#bbbbbb","strokeWidth":1.2,"opacity":1},"encoding":{"x":{"field":"f","type":"quantitative"},"y":{"field":"v","type":"quantitative"}}},
{"data":{"name":"notes"},"transform":[{"filter":"datum.s=='d' && datum.k=='lab'"}],"mark":{"type":"text","fontSize":22,"color":"#000000","baseline":"middle","align":"center"},"encoding":{"x":{"field":"f","type":"quantitative"},"y":{"field":"v","type":"quantitative"},"text":{"field":"t"}}},
{"data":{"name":"notes"},"transform":[{"filter":"datum.s=='d' && datum.k=='fr'"}],"mark":{"type":"text","fontSize":12,"color":"#262626","baseline":"middle","align":"center"},"encoding":{"x":{"field":"f","type":"quantitative"},"y":{"field":"v","type":"quantitative"},"text":{"field":"t"}}},
{"data":{"name":"notes"},"transform":[{"filter":"datum.s=='d' && datum.k=='rule'"}],"mark":{"type":"rule","color":"#262626","strokeWidth":1},"encoding":{"x":{"field":"f","type":"quantitative"},"x2":{"field":"f2"},"y":{"field":"v","type":"quantitative"}}}
]},
{"width":351,"height":243,"title":{"text":"HADV power spectrum (array-sized)","dy":13},
"layer":[
{"data":{"name":"bars"},"transform":[{"filter":"datum.s=='e'"}],"mark":{"type":"bar","fill":"#ffa500","stroke":"#404040","strokeWidth":0.6},
"encoding":{"x":{"field":"f","type":"quantitative","bin":{"binned":true,"step":0.0104166667},"scale":{"domain":[0,0.5],"nice":false},"axis":{"values":[0,0.1,0.2,0.3,0.4,0.5],"format":".1f","title":"Frequency (cpd)","tickCount":20}},"y":{"field":"v","type":"quantitative","scale":{"domain":[0,0.8],"nice":false},"axis":{"values":[0,0.1,0.2,0.3,0.4,0.5,0.6,0.7,0.8],"format":".1f","title":null,"tickCount":20}}}},
{"data":{"name":"bars"},"transform":[{"filter":"datum.s=='e' && datum.hl==1"}],"mark":{"type":"bar","fill":"#ffa500","stroke":"#ff00ff","strokeWidth":2},
"encoding":{"x":{"field":"f","type":"quantitative","bin":{"binned":true,"step":0.0104166667}},"y":{"field":"v","type":"quantitative"}}},
{"data":{"name":"curves"},"transform":[{"filter":"datum.s=='e'"}],"mark":{"type":"line","color":"#000000","strokeWidth":2.2,"interpolate":"monotone"},
"encoding":{"x":{"field":"f","type":"quantitative"},"y":{"field":"v","type":"quantitative"},"strokeDash":{"field":"k","type":"nominal","scale":{"domain":["m","d","dd"],"range":[[1,0],[7,3.5],[7,3,2,3]]},"legend":null}}},
{"data":{"name":"notes"},"transform":[{"filter":"datum.s=='e' && datum.k=='lab'"}],"mark":{"type":"point","shape":"M-0.81,-1L0.81,-1L0.81,1L-0.81,1Z","size":1369,"filled":true,"fill":"white","stroke":"#bbbbbb","strokeWidth":1.2,"opacity":1},"encoding":{"x":{"field":"f","type":"quantitative"},"y":{"field":"v","type":"quantitative"}}},
{"data":{"name":"notes"},"transform":[{"filter":"datum.s=='e' && datum.k=='lab'"}],"mark":{"type":"text","fontSize":22,"color":"#000000","baseline":"middle","align":"center"},"encoding":{"x":{"field":"f","type":"quantitative"},"y":{"field":"v","type":"quantitative"},"text":{"field":"t"}}},
{"data":{"name":"notes"},"transform":[{"filter":"datum.s=='e' && datum.k=='ann'"}],"mark":{"type":"text","fontSize":18,"color":"#333333","baseline":"middle","align":"center"},"encoding":{"x":{"field":"f","type":"quantitative"},"y":{"field":"v","type":"quantitative"},"text":{"field":"t"}}}
]},
{"width":351,"height":243,"title":{"text":"EVAP power spectrum (array-sized)","dy":13},
"layer":[
{"data":{"name":"bars"},"transform":[{"filter":"datum.s=='f'"}],"mark":{"type":"bar","fill":"#008000","stroke":"#404040","strokeWidth":0.6},
"encoding":{"x":{"field":"f","type":"quantitative","bin":{"binned":true,"step":0.0104166667},"scale":{"domain":[0,0.5],"nice":false},"axis":{"values":[0,0.1,0.2,0.3,0.4,0.5],"format":".1f","title":"Frequency (cpd)","tickCount":20}},"y":{"field":"v","type":"quantitative","scale":{"domain":[0,0.3],"nice":false},"axis":{"values":[0,0.05,0.1,0.15,0.2,0.25,0.3],"format":".2f","title":null,"tickCount":20}}}},
{"data":{"name":"curves"},"transform":[{"filter":"datum.s=='f'"}],"mark":{"type":"line","color":"#000000","strokeWidth":2.2,"interpolate":"monotone"},
"encoding":{"x":{"field":"f","type":"quantitative"},"y":{"field":"v","type":"quantitative"},"strokeDash":{"field":"k","type":"nominal","scale":{"domain":["m","d","dd"],"range":[[1,0],[7,3.5],[7,3,2,3]]},"legend":null}}},
{"data":{"name":"notes"},"transform":[{"filter":"datum.s=='f' && datum.k=='lab'"}],"mark":{"type":"point","shape":"M-0.6,-1L0.6,-1L0.6,1L-0.6,1Z","size":1369,"filled":true,"fill":"white","stroke":"#bbbbbb","strokeWidth":1.2,"opacity":1},"encoding":{"x":{"field":"f","type":"quantitative"},"y":{"field":"v","type":"quantitative"}}},
{"data":{"name":"notes"},"transform":[{"filter":"datum.s=='f' && datum.k=='lab'"}],"mark":{"type":"text","fontSize":22,"color":"#000000","baseline":"middle","align":"center"},"encoding":{"x":{"field":"f","type":"quantitative"},"y":{"field":"v","type":"quantitative"},"text":{"field":"t"}}}
]},
{"width":351,"height":243,"title":{"text":"power spectrum (basin-sized)","dx":21,"dy":32},
"layer":[
{"data":{"name":"bars"},"transform":[{"filter":"datum.s=='g'"}],"mark":{"type":"bar","fill":"#0000ff","stroke":"#404040","strokeWidth":0.6},
"encoding":{"x":{"field":"f","type":"quantitative","bin":{"binned":true,"step":0.0104166667},"scale":{"domain":[0,0.5],"nice":false},"axis":{"values":[0,0.1,0.2,0.3,0.4,0.5],"format":".1f","title":"Frequency (cpd)","tickCount":20}},"y":{"field":"v","type":"quantitative","scale":{"domain":[0,0.12],"nice":false},"axis":{"values":[0,0.02,0.04,0.06,0.08,0.1,0.12],"format":".2f","title":null,"tickCount":20}}}},
{"data":{"name":"bars"},"transform":[{"filter":"datum.s=='g' && datum.hl==1"}],"mark":{"type":"bar","fill":"#0000ff","stroke":"#ff00ff","strokeWidth":2},
"encoding":{"x":{"field":"f","type":"quantitative","bin":{"binned":true,"step":0.0104166667}},"y":{"field":"v","type":"quantitative"}}},
{"data":{"name":"curves"},"transform":[{"filter":"datum.s=='g'"}],"mark":{"type":"line","color":"#000000","strokeWidth":2.2,"interpolate":"monotone"},
"encoding":{"x":{"field":"f","type":"quantitative"},"y":{"field":"v","type":"quantitative"},"strokeDash":{"field":"k","type":"nominal","scale":{"domain":["m","d","dd"],"range":[[1,0],[7,3.5],[7,3,2,3]]},"legend":null}}},
{"data":{"name":"notes"},"transform":[{"filter":"datum.s=='g' && datum.k=='lab'"}],"mark":{"type":"point","shape":"M-0.81,-1L0.81,-1L0.81,1L-0.81,1Z","size":1369,"filled":true,"fill":"white","stroke":"#bbbbbb","strokeWidth":1.2,"opacity":1},"encoding":{"x":{"field":"f","type":"quantitative"},"y":{"field":"v","type":"quantitative"}}},
{"data":{"name":"notes"},"transform":[{"filter":"datum.s=='g' && datum.k=='lab'"}],"mark":{"type":"text","fontSize":22,"color":"#000000","baseline":"middle","align":"center"},"encoding":{"x":{"field":"f","type":"quantitative"},"y":{"field":"v","type":"quantitative"},"text":{"field":"t"}}},
{"data":{"name":"notes"},"transform":[{"filter":"datum.s=='g' && datum.k=='fr'"}],"mark":{"type":"text","fontSize":12,"color":"#262626","baseline":"middle","align":"center"},"encoding":{"x":{"field":"f","type":"quantitative"},"y":{"field":"v","type":"quantitative"},"text":{"field":"t"}}},
{"data":{"name":"notes"},"transform":[{"filter":"datum.s=='g' && datum.k=='rule'"}],"mark":{"type":"rule","color":"#262626","strokeWidth":1},"encoding":{"x":{"field":"f","type":"quantitative"},"x2":{"field":"f2"},"y":{"field":"v","type":"quantitative"}}},
{"data":{"name":"notes"},"transform":[{"filter":"datum.s=='g' && datum.k=='ann'"}],"mark":{"type":"text","fontSize":18,"color":"#333333","baseline":"middle","align":"center"},"encoding":{"x":{"field":"f","type":"quantitative"},"y":{"field":"v","type":"quantitative"},"text":{"field":"t"}}}
]},
{"width":351,"height":243,"title":{"text":"HADV power spectrum (basin-sized)","dy":13},
"layer":[
{"data":{"name":"bars"},"transform":[{"filter":"datum.s=='h'"}],"mark":{"type":"bar","fill":"#ffa500","stroke":"#404040","strokeWidth":0.6},
"encoding":{"x":{"field":"f","type":"quantitative","bin":{"binned":true,"step":0.0104166667},"scale":{"domain":[0,0.5],"nice":false},"axis":{"values":[0,0.1,0.2,0.3,0.4,0.5],"format":".1f","title":"Frequency (cpd)","tickCount":20}},"y":{"field":"v","type":"quantitative","scale":{"domain":[0,0.35],"nice":false},"axis":{"values":[0,0.05,0.1,0.15,0.2,0.25,0.3,0.35],"format":".2f","title":null,"tickCount":20}}}},
{"data":{"name":"bars"},"transform":[{"filter":"datum.s=='h' && datum.hl==1"}],"mark":{"type":"bar","fill":"#ffa500","stroke":"#ff00ff","strokeWidth":2},
"encoding":{"x":{"field":"f","type":"quantitative","bin":{"binned":true,"step":0.0104166667}},"y":{"field":"v","type":"quantitative"}}},
{"data":{"name":"curves"},"transform":[{"filter":"datum.s=='h'"}],"mark":{"type":"line","color":"#000000","strokeWidth":2.2,"interpolate":"monotone"},
"encoding":{"x":{"field":"f","type":"quantitative"},"y":{"field":"v","type":"quantitative"},"strokeDash":{"field":"k","type":"nominal","scale":{"domain":["m","d","dd"],"range":[[1,0],[7,3.5],[7,3,2,3]]},"legend":null}}},
{"data":{"name":"notes"},"transform":[{"filter":"datum.s=='h' && datum.k=='lab'"}],"mark":{"type":"point","shape":"M-0.81,-1L0.81,-1L0.81,1L-0.81,1Z","size":1369,"filled":true,"fill":"white","stroke":"#bbbbbb","strokeWidth":1.2,"opacity":1},"encoding":{"x":{"field":"f","type":"quantitative"},"y":{"field":"v","type":"quantitative"}}},
{"data":{"name":"notes"},"transform":[{"filter":"datum.s=='h' && datum.k=='lab'"}],"mark":{"type":"text","fontSize":22,"color":"#000000","baseline":"middle","align":"center"},"encoding":{"x":{"field":"f","type":"quantitative"},"y":{"field":"v","type":"quantitative"},"text":{"field":"t"}}},
{"data":{"name":"notes"},"transform":[{"filter":"datum.s=='h' && datum.k=='ann'"}],"mark":{"type":"text","fontSize":18,"color":"#333333","baseline":"middle","align":"center"},"encoding":{"x":{"field":"f","type":"quantitative"},"y":{"field":"v","type":"quantitative"},"text":{"field":"t"}}}
]},
{"width":351,"height":243,"title":{"text":"EVAP power spectrum (basin-sized)","dy":13},
"layer":[
{"data":{"name":"bars"},"transform":[{"filter":"datum.s=='i'"}],"mark":{"type":"bar","fill":"#008000","stroke":"#404040","strokeWidth":0.6},
"encoding":{"x":{"field":"f","type":"quantitative","bin":{"binned":true,"step":0.0104166667},"scale":{"domain":[0,0.5],"nice":false},"axis":{"values":[0,0.1,0.2,0.3,0.4,0.5],"format":".1f","title":"Frequency (cpd)","tickCount":20}},"y":{"field":"v","type":"quantitative","scale":{"domain":[0,0.14],"nice":false},"axis":{"values":[0,0.02,0.04,0.06,0.08,0.1,0.12,0.14],"format":".2f","title":null,"tickCount":20}}}},
{"data":{"name":"curves"},"transform":[{"filter":"datum.s=='i'"}],"mark":{"type":"line","color":"#000000","strokeWidth":2.2,"interpolate":"monotone"},
"encoding":{"x":{"field":"f","type":"quantitative"},"y":{"field":"v","type":"quantitative"},"strokeDash":{"field":"k","type":"nominal","scale":{"domain":["m","d","dd"],"range":[[1,0],[7,3.5],[7,3,2,3]]},"legend":null}}},
{"data":{"name":"powerlaw"},"mark":{"type":"line","color":"#ff0000","strokeWidth":2.5,"strokeDash":[7,4],"interpolate":"monotone"},
"encoding":{"x":{"field":"f","type":"quantitative"},"y":{"field":"v","type":"quantitative"}}},
{"data":{"name":"notes"},"transform":[{"filter":"datum.s=='i' && datum.k=='lab'"}],"mark":{"type":"point","shape":"M-0.6,-1L0.6,-1L0.6,1L-0.6,1Z","size":1369,"filled":true,"fill":"white","stroke":"#bbbbbb","strokeWidth":1.2,"opacity":1},"encoding":{"x":{"field":"f","type":"quantitative"},"y":{"field":"v","type":"quantitative"}}},
{"data":{"name":"notes"},"transform":[{"filter":"datum.s=='i' && datum.k=='lab'"}],"mark":{"type":"text","fontSize":22,"color":"#000000","baseline":"middle","align":"center"},"encoding":{"x":{"field":"f","type":"quantitative"},"y":{"field":"v","type":"quantitative"},"text":{"field":"t"}}},
{"data":{"name":"notes"},"transform":[{"filter":"datum.s=='i' && datum.k=='big'"}],"mark":{"type":"text","font":"Liberation Serif","fontSize":26,"color":"#333333","baseline":"middle","align":"center"},"encoding":{"x":{"field":"f","type":"quantitative"},"y":{"field":"v","type":"quantitative"},"text":{"field":"t"}}},
{"data":{"name":"notes"},"transform":[{"filter":"datum.s=='i' && datum.k=='sup'"}],"mark":{"type":"text","font":"Liberation Serif","fontSize":16,"color":"#333333","baseline":"middle","align":"center"},"encoding":{"x":{"field":"f","type":"quantitative"},"y":{"field":"v","type":"quantitative"},"text":{"field":"t"}}},
{"data":{"name":"notes"},"transform":[{"filter":"datum.s=='i' && datum.k=='rule'"}],"mark":{"type":"rule","color":"#333333","strokeWidth":1.2},"encoding":{"x":{"field":"f","type":"quantitative"},"x2":{"field":"f2"},"y":{"field":"v","type":"quantitative"}}}
]}
],
"config":{
"font":"Liberation Sans",
"view":{"stroke":"#262626","strokeWidth":1.5},
"axis":{"ticks":false,"domain":false,"grid":false,"labelFontSize":15,"labelColor":"#262626","titleFontSize":18,"titleFontWeight":"normal","titleColor":"#262626","labelPadding":8,"labelOverlap":false},
"axisX":{"labelFlush":false,"labelPadding":10,"titlePadding":7},
"title":{"fontSize":18.5,"fontWeight":"normal","color":"#262626","frame":"group","offset":7,"baseline":"alphabetic","anchor":"middle"},
"text":{"font":"Liberation Sans"}
}
}
